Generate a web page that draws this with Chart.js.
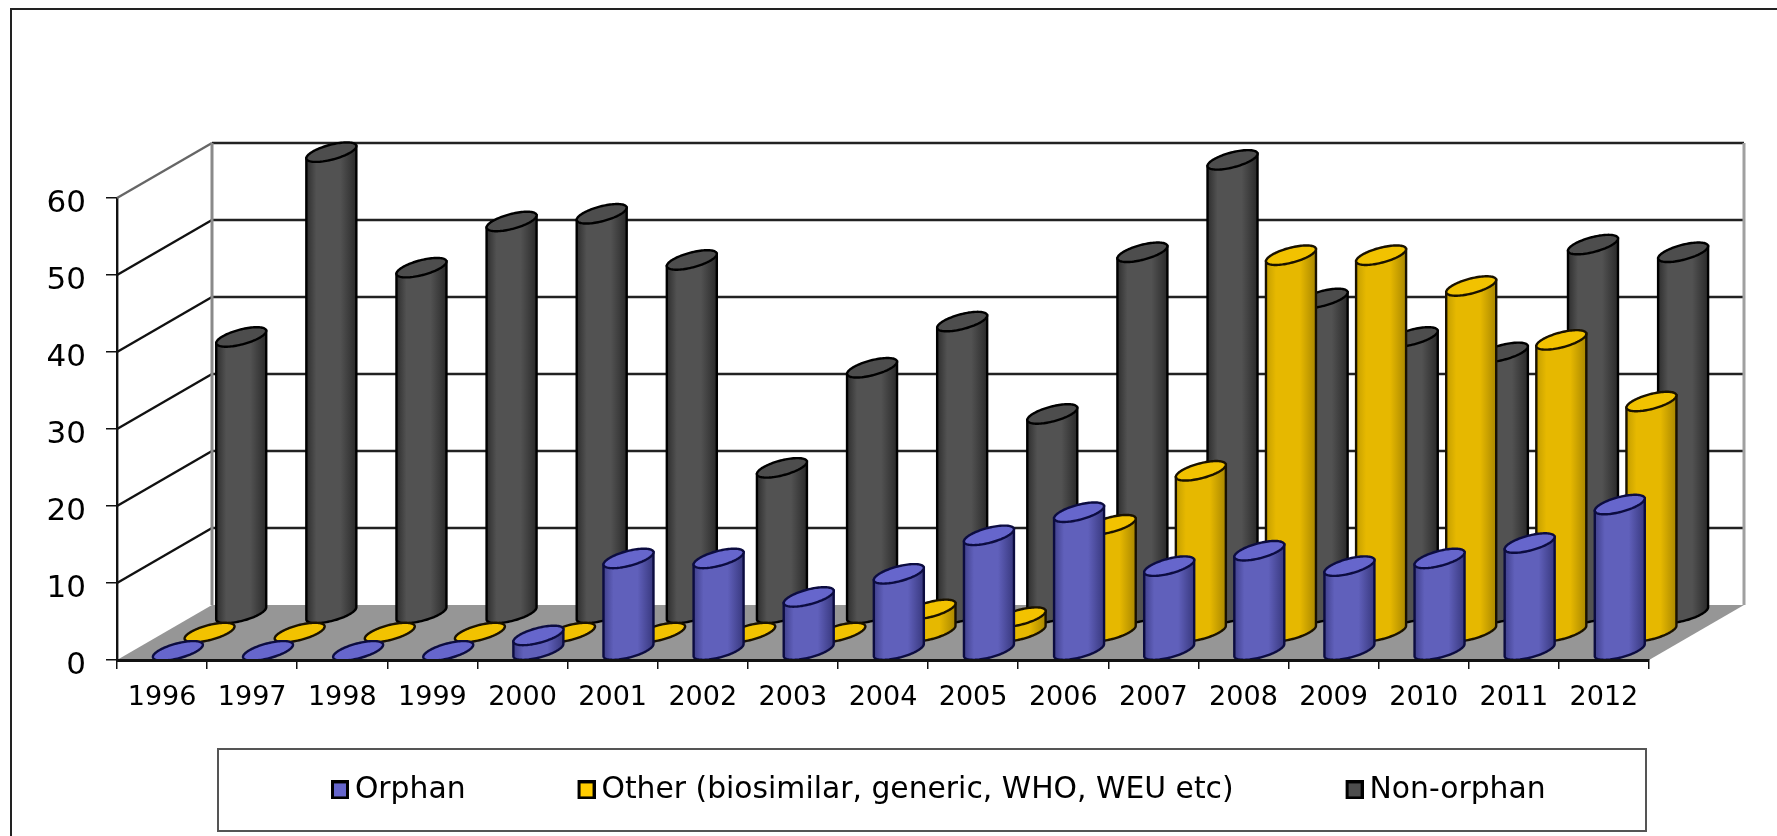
<!DOCTYPE html>
<html>
<head>
<meta charset="utf-8">
<style>html,body{margin:0;padding:0;background:#fff}canvas{display:block}</style>
<script src="https://cdn.jsdelivr.net/npm/chart.js@4"></script>
</head>
<body>
<canvas id="chart" width="1777" height="836"></canvas>
<script>
const years = ['1996','1997','1998','1999','2000','2001','2002','2003','2004','2005','2006','2007','2008','2009','2010','2011','2012'];
const orphan = [0,0,0,0,2,12,12,7,10,15,18,11,13,11,12,14,19];
const other = [0,0,0,0,0,0,0,0,3,2,14,21,49,49,45,38,30];
const nonOrphan = [36,60,45,51,52,46,19,32,38,26,47,59,41,36,34,48,47];
const seriesNames = ['Orphan','Other (biosimilar, generic, WHO, WEU etc)','Non-orphan'];
const swatchColours = ['#6666cc','#ffcc00','#4d4d4d'];

// Oblique projection of the chart floor: how far the back wall sits from the front plane.
const DEPTH_X = 95, DEPTH_Y = -55;
// Each series occupies one third of the floor depth; its cylinders stand mid-slot.
const slotCentre = i => (i + 0.5) / 3;

const looks = [
  {edgeL:'#40408c', edgeR:'#38387e', mid:'#6060bb', top:'#6666cc', line:'#0c0c40'},
  {edgeL:'#c49e00', edgeR:'#a98700', mid:'#e6b800', top:'#f2c200', line:'#1a1200'},
  {edgeL:'#2e2e2e', edgeR:'#2a2a2a', mid:'#525252', top:'#4d4d4d', line:'#000000'}
];

// Rim ellipse shape: slant of the circle in the floor plane and its vertical squash.
const S = 0.62, K = Math.sqrt(1 - S * S), FLAT = 0.39;

function rimPoint(cx, cy, ext, t) {
  return [cx + ext * K * Math.cos(t) + ext * S * Math.sin(t), cy - ext * FLAT * Math.sin(t)];
}

function drawCylinder(ctx, cx, topY, baseY, ext, look) {
  const t0 = Math.atan2(S, K);
  const steps = 48;
  if (baseY - topY > 0.5) {
    ctx.beginPath();
    let p = rimPoint(cx, topY, ext, t0 + Math.PI);
    ctx.moveTo(p[0], p[1]);
    for (let i = 0; i <= steps; i++) {
      p = rimPoint(cx, baseY, ext, t0 + Math.PI + Math.PI * i / steps);
      ctx.lineTo(p[0], p[1]);
    }
    p = rimPoint(cx, topY, ext, t0);
    ctx.lineTo(p[0], p[1]);
    ctx.closePath();
    const g = ctx.createLinearGradient(cx - ext, 0, cx + ext, 0);
    g.addColorStop(0, look.edgeL);
    g.addColorStop(0.2, look.mid);
    g.addColorStop(0.68, look.mid);
    g.addColorStop(1, look.edgeR);
    ctx.fillStyle = g;
    ctx.fill();
    ctx.lineWidth = 2.4;
    ctx.strokeStyle = look.line;
    ctx.stroke();
  }
  ctx.beginPath();
  for (let i = 0; i <= steps * 2; i++) {
    const p = rimPoint(cx, topY, ext, Math.PI * i / steps);
    if (i === 0) ctx.moveTo(p[0], p[1]); else ctx.lineTo(p[0], p[1]);
  }
  ctx.closePath();
  ctx.fillStyle = look.top;
  ctx.fill();
  ctx.lineWidth = 2.4;
  ctx.strokeStyle = look.line;
  ctx.stroke();
}

// Legend marker: framed square on the right side of a wider transparent sprite,
// which brings it close to its label.
function swatch(colour) {
  const c = document.createElement('canvas');
  c.width = 35; c.height = 19;
  const g = c.getContext('2d');
  g.fillStyle = colour;
  g.fillRect(18.5, 1.5, 15, 16);
  g.strokeStyle = '#000';
  g.lineWidth = 3;
  g.strokeRect(18.5, 1.5, 15, 16);
  return c;
}

const stagePlugin = {
  id: 'stage',
  afterLayout(chart) {
    // Legend row sits inside its own framed box, below the axis labels.
    const pad = chart.options.plugins.legend.labels.padding;
    chart.legend.top = 775 - pad;
    chart.legend.left = 323 - pad;
    chart.legend.right = 1777;
  },
  beforeDatasetsDraw(chart) {
    const {ctx, chartArea: a, scales: {y}} = chart;
    const line = (x1, y1, x2, y2, color, w) => {
      ctx.beginPath(); ctx.moveTo(x1, y1); ctx.lineTo(x2, y2);
      ctx.strokeStyle = color; ctx.lineWidth = w; ctx.stroke();
    };
    ctx.save();
    // Outer frame and legend frame
    line(11, 9, 1777, 9, '#222', 2);
    line(11, 8, 11, 836, '#222', 2);
    ctx.strokeStyle = '#555'; ctx.lineWidth = 2;
    ctx.strokeRect(218, 749, 1428, 82);
    // Floor
    ctx.beginPath();
    ctx.moveTo(a.left, a.bottom); ctx.lineTo(a.right, a.bottom);
    ctx.lineTo(a.right + DEPTH_X, a.bottom + DEPTH_Y); ctx.lineTo(a.left + DEPTH_X, a.bottom + DEPTH_Y);
    ctx.closePath();
    ctx.fillStyle = '#969696'; ctx.fill();
    // Back wall and side wall rules, one per value tick
    y.ticks.forEach(t => {
      if (t.value <= 0) return;
      const py = y.getPixelForValue(t.value);
      const colour = t.value === y.max ? '#666' : '#111';
      line(a.left, py, a.left + DEPTH_X, py + DEPTH_Y, colour, 2.4);
      line(a.left + DEPTH_X, py + DEPTH_Y, a.right + DEPTH_X, py + DEPTH_Y, '#222', 2.6);
    });
    line(a.left + DEPTH_X, a.top + DEPTH_Y, a.left + DEPTH_X, a.bottom + DEPTH_Y, '#8a8a8a', 3);
    line(a.right + DEPTH_X, a.top + DEPTH_Y, a.right + DEPTH_X, a.bottom + DEPTH_Y, '#a0a0a0', 3);
    ctx.restore();
  },
  beforeDatasetDraw(chart, args) {
    const {ctx} = chart;
    const i = args.index;
    const dx = DEPTH_X * slotCentre(i), dy = DEPTH_Y * slotCentre(i);
    ctx.save();
    args.meta.data.forEach(bar => {
      drawCylinder(ctx, bar.x + dx, bar.y + dy, bar.base + dy, bar.width / 2, looks[i]);
    });
    ctx.restore();
    return false;
  }
};

new Chart(document.getElementById('chart'), {
  type: 'bar',
  data: {
    labels: years,
    datasets: [
      {label: seriesNames[0], data: orphan, backgroundColor: swatchColours[0]},
      {label: seriesNames[1], data: other, backgroundColor: swatchColours[1]},
      {label: seriesNames[2], data: nonOrphan, backgroundColor: swatchColours[2]}
    ]
  },
  plugins: [stagePlugin],
  options: {
    responsive: false,
    animation: false,
    devicePixelRatio: 1,
    grouped: false,
    barThickness: 50,
    layout: {padding: {left: 0, right: 128, top: 198, bottom: 0}},
    plugins: {
      tooltip: {enabled: false},
      legend: {
        position: 'bottom',
        align: 'start',
        maxHeight: 100,
        labels: {
          boxWidth: 17, boxHeight: 19, padding: 104,
          usePointStyle: true,
          color: '#000',
          font: {family: '"DejaVu Sans"', size: 29.8},
          generateLabels(chart) {
            const items = Chart.defaults.plugins.legend.labels.generateLabels(chart);
            items.forEach((it, i) => { it.pointStyle = swatch(swatchColours[i]); });
            return items;
          }
        }
      }
    },
    scales: {
      x: {
        afterFit(s) { s.height = 76; },
        border: {display: true, color: '#111', width: 3, z: 1},
        grid: {drawOnChartArea: false, drawTicks: true, tickLength: 9, color: '#111', lineWidth: 1.5},
        ticks: {color: '#000', padding: 13, autoSkip: false, maxRotation: 0, font: {family: '"DejaVu Sans"', size: 27}}
      },
      y: {
        min: 0, max: 60,
        afterFit(s) { s.width = 117; },
        border: {display: true, color: '#111', width: 2.4},
        grid: {drawOnChartArea: false, drawTicks: true, tickLength: 11, color: '#111', lineWidth: 1.5},
        ticks: {stepSize: 10, color: '#000', padding: 20, labelOffset: 6, font: {family: '"DejaVu Sans"', size: 31}}
      }
    }
  }
});
</script>
</body>
</html>
